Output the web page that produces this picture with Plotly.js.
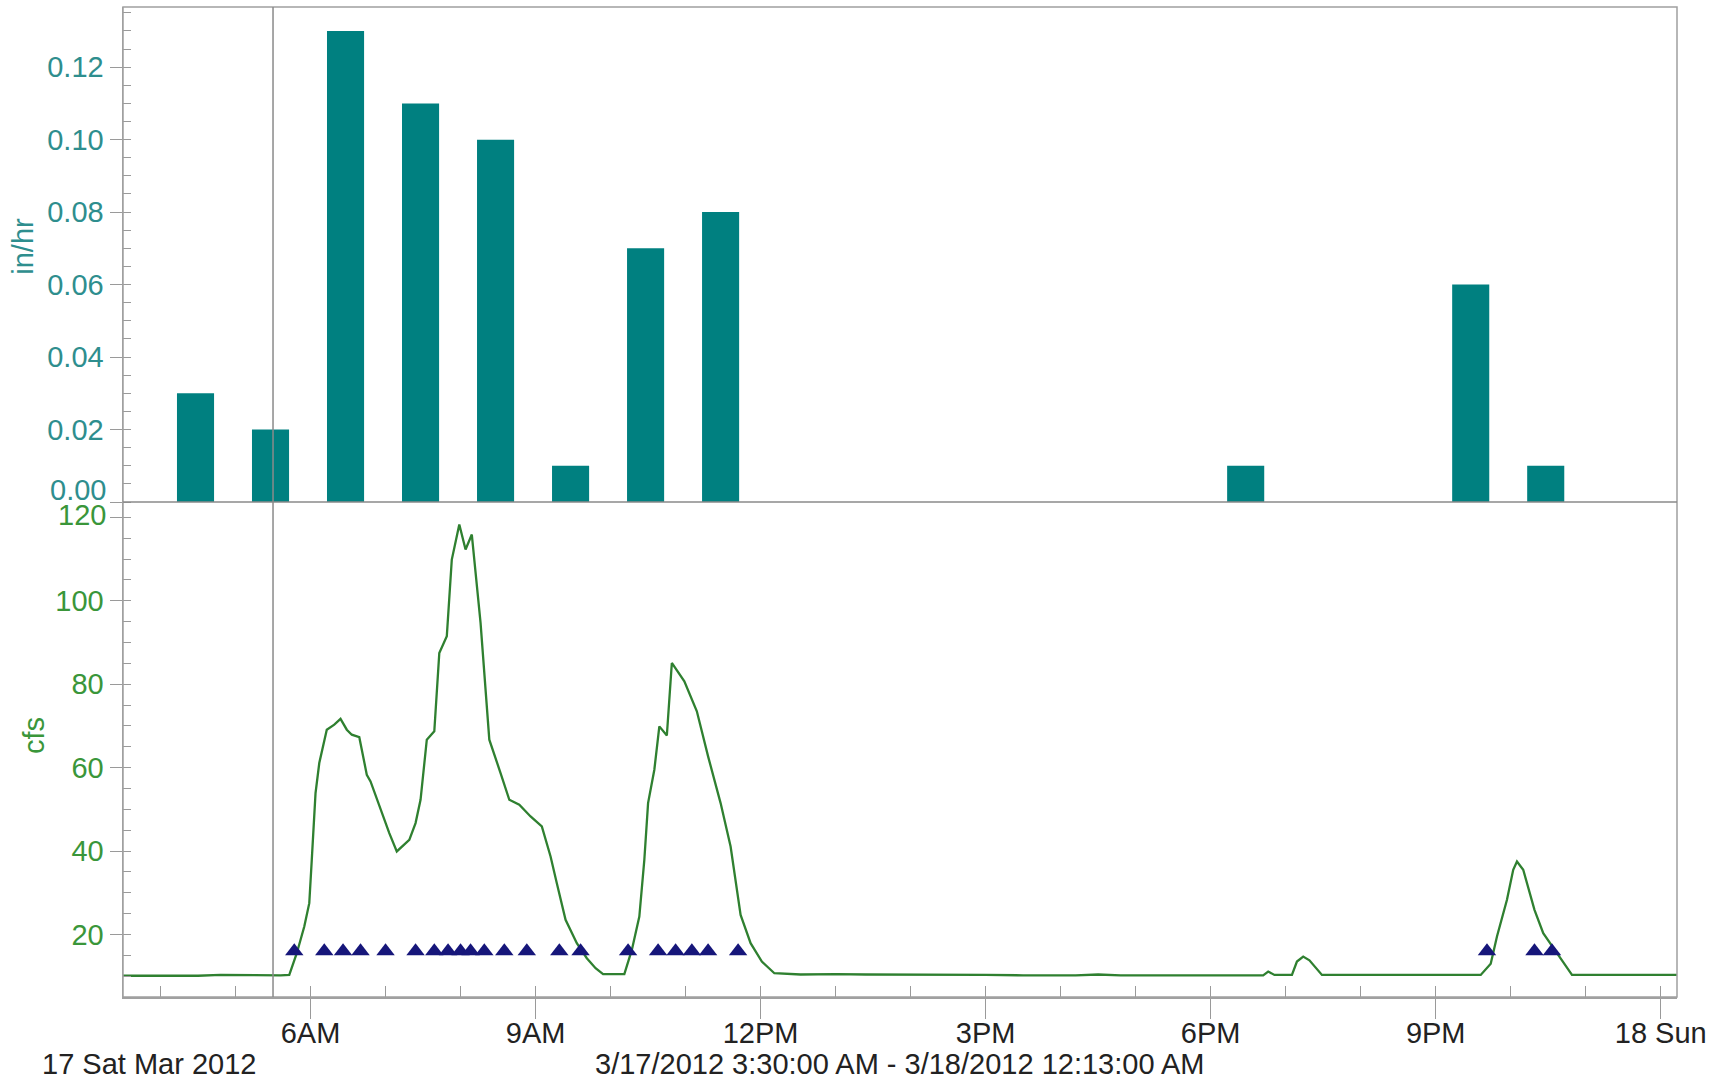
<!DOCTYPE html>
<html>
<head>
<meta charset="utf-8">
<script src="https://cdn.plot.ly/plotly-3.0.1.min.js"></script>
<style>html,body{margin:0;padding:0;background:#fff;}#chart{width:1716px;height:1083px;}</style>
</head>
<body>
<div id="chart"></div>
<script>
// ---- Data ----
const rangeStart = '2012-03-17 03:30';
const rangeEnd = '2012-03-18 00:13';
const markerTime = '2012-03-17 05:30';

const rainTimes = ['2012-03-17 04:28','2012-03-17 05:28','2012-03-17 06:28','2012-03-17 07:28','2012-03-17 08:28','2012-03-17 09:28','2012-03-17 10:28','2012-03-17 11:28','2012-03-17 18:28','2012-03-17 21:28','2012-03-17 22:28'];
const rainValues = [0.03, 0.02, 0.13, 0.11, 0.10, 0.01, 0.07, 0.08, 0.01, 0.06, 0.01];

const flowTimes = ['2012-03-17 03:30','2012-03-17 04:00','2012-03-17 04:30','2012-03-17 04:48','2012-03-17 05:12','2012-03-17 05:36','2012-03-17 05:43','2012-03-17 05:49','2012-03-17 05:55','2012-03-17 05:59','2012-03-17 06:01','2012-03-17 06:04','2012-03-17 06:07','2012-03-17 06:13','2012-03-17 06:19','2012-03-17 06:24','2012-03-17 06:29','2012-03-17 06:33','2012-03-17 06:39','2012-03-17 06:45','2012-03-17 06:48','2012-03-17 06:56','2012-03-17 07:03','2012-03-17 07:09','2012-03-17 07:19','2012-03-17 07:24','2012-03-17 07:28','2012-03-17 07:33','2012-03-17 07:39','2012-03-17 07:43','2012-03-17 07:47','2012-03-17 07:49','2012-03-17 07:53','2012-03-17 07:59','2012-03-17 08:04','2012-03-17 08:09','2012-03-17 08:16','2012-03-17 08:23','2012-03-17 08:32','2012-03-17 08:39','2012-03-17 08:47','2012-03-17 08:56','2012-03-17 09:05','2012-03-17 09:12','2012-03-17 09:17','2012-03-17 09:24','2012-03-17 09:33','2012-03-17 09:41','2012-03-17 09:48','2012-03-17 09:54','2012-03-17 10:11','2012-03-17 10:17','2012-03-17 10:23','2012-03-17 10:27','2012-03-17 10:30','2012-03-17 10:35','2012-03-17 10:39','2012-03-17 10:45','2012-03-17 10:49','2012-03-17 10:59','2012-03-17 11:09','2012-03-17 11:18','2012-03-17 11:28','2012-03-17 11:36','2012-03-17 11:44','2012-03-17 11:52','2012-03-17 12:01','2012-03-17 12:11','2012-03-17 12:32','2012-03-17 13:00','2012-03-17 13:24','2012-03-17 14:00','2012-03-17 15:00','2012-03-17 15:30','2012-03-17 16:12','2012-03-17 16:30','2012-03-17 16:48','2012-03-17 18:00','2012-03-17 18:42','2012-03-17 18:46','2012-03-17 18:51','2012-03-17 19:05','2012-03-17 19:09','2012-03-17 19:14','2012-03-17 19:19','2012-03-17 19:29','2012-03-17 21:36','2012-03-17 21:44','2012-03-17 21:49','2012-03-17 21:57','2012-03-17 22:02','2012-03-17 22:05','2012-03-17 22:10','2012-03-17 22:19','2012-03-17 22:26','2012-03-17 22:37','2012-03-17 22:49','2012-03-18 00:13'];
const flowValues = [10.1,10.1,10.1,10.3,10.2,10.2,10.3,15.5,21.9,27.5,37.9,53.9,61.1,69.1,70.3,71.7,69.1,67.9,67.3,58.3,56.7,49.9,44.3,39.9,42.7,46.7,52.3,66.7,68.7,87.5,90.3,91.5,109.9,118.3,112.3,115.9,94.7,66.7,58.7,52.3,51.1,48.3,45.9,38.7,32.3,23.5,17.9,14.3,11.9,10.5,10.5,16.3,24.3,37.9,51.5,59.5,69.9,67.7,85.1,80.7,73.5,62.7,51.5,41.1,24.7,17.9,13.5,10.7,10.4,10.5,10.4,10.4,10.3,10.2,10.2,10.4,10.2,10.2,10.2,11.1,10.3,10.3,13.5,14.7,13.8,10.3,10.3,13.0,19.5,28.3,35.5,37.5,35.5,25.9,20.3,15.5,10.3,10.3];

const tipTimes = ['2012-03-17 05:47','2012-03-17 06:11','2012-03-17 06:26','2012-03-17 06:40','2012-03-17 07:00','2012-03-17 07:24','2012-03-17 07:39','2012-03-17 07:50','2012-03-17 08:00','2012-03-17 08:08','2012-03-17 08:19','2012-03-17 08:35','2012-03-17 08:53','2012-03-17 09:19','2012-03-17 09:36','2012-03-17 10:14','2012-03-17 10:38','2012-03-17 10:52','2012-03-17 11:05','2012-03-17 11:18','2012-03-17 11:42','2012-03-17 21:41','2012-03-17 22:19','2012-03-17 22:33'];
const tipValues = [16,16,16,16,16,16,16,16,16,16,16,16,16,16,16,16,16,16,16,16,16,16,16,16];

const xTickVals = ['2012-03-17 06:00','2012-03-17 09:00','2012-03-17 12:00','2012-03-17 15:00','2012-03-17 18:00','2012-03-17 21:00','2012-03-18 00:00'];
const xTickText = ['6AM','9AM','12PM','3PM','6PM','9PM','18 Sun'];

const rainTickVals = [0, 0.02, 0.04, 0.06, 0.08, 0.10, 0.12];
const rainTickText = ['', '0.02', '0.04', '0.06', '0.08', '0.10', '0.12'];
const flowTickVals = [20, 40, 60, 80, 100, 120];
const flowTickText = ['20', '40', '60', '80', '100', ''];

// ---- Styles ----
const FONT = 'Liberation Sans, Arial, sans-serif';
const FS = 29;
const TEAL = '#008080';
const TEAL_TXT = '#2e8e8e';
const GREEN_TXT = '#3a963a';
const FRAME = '#a0a0a0';
const TICKC = '#9a9a9a';

const traces = [
  {type:'bar', x: rainTimes, y: rainValues, xaxis:'x', yaxis:'y',
   marker:{color: TEAL, line:{width:0}}, width: 1780000},
  {type:'scatter', mode:'lines', x: flowTimes, y: flowValues, xaxis:'x', yaxis:'y2',
   line:{color:'#2f8030', width:2.3}},
  {type:'scatter', mode:'markers', x: tipTimes, y: tipValues, xaxis:'x', yaxis:'y2',
   marker:{symbol:'triangle-up', size:16, color:'#16167a', line:{width:0}}}
];

const layout = {
  width:1716, height:1083,
  margin:{l:123, r:39, t:7, b:86},
  paper_bgcolor:'#ffffff', plot_bgcolor:'#ffffff',
  showlegend:false,
  font:{family: FONT, size:FS, color:'#222'},
  xaxis:{
    type:'date', range:[rangeStart, rangeEnd], anchor:'y2',
    tickmode:'array', tickvals:xTickVals, ticktext:xTickText,
    ticks:'outside', ticklen:20, tickwidth:1, tickcolor:TICKC, ticklabelstandoff:-10,
    minor:{tickmode:'linear', tick0:'2012-03-17 00:00', dtick:3600000, ticks:'inside', ticklen:11, tickwidth:1, tickcolor:TICKC},
    showgrid:false, zeroline:false, showline:true, linecolor:FRAME, linewidth:1.5,
    tickfont:{family:FONT, size:FS, color:'#222'}
  },
  yaxis:{
    domain:[0.5, 1], anchor:'x', range:[0, 0.1366],
    tickmode:'array', tickvals:rainTickVals, ticktext:rainTickText,
    ticks:'outside', ticklen:12, tickwidth:1, tickcolor:TICKC,
    minor:{tickmode:'linear', tick0:0, dtick:0.005, ticks:'inside', ticklen:8, tickwidth:1, tickcolor:TICKC},
    showgrid:false, zeroline:false, showline:true, linecolor:FRAME, linewidth:1.5,
    tickfont:{family:FONT, size:FS, color:TEAL_TXT}
  },
  yaxis2:{
    domain:[0, 0.5], anchor:'x', range:[5, 123.7],
    tickmode:'array', tickvals:flowTickVals, ticktext:flowTickText,
    ticks:'outside', ticklen:12, tickwidth:1, tickcolor:TICKC,
    minor:{tickmode:'linear', tick0:0, dtick:5, ticks:'inside', ticklen:8, tickwidth:1, tickcolor:TICKC},
    showgrid:false, zeroline:false, showline:true, linecolor:FRAME, linewidth:1.5,
    tickfont:{family:FONT, size:FS, color:GREEN_TXT}
  },
  shapes:[
    {type:'rect', xref:'paper', yref:'paper', x0:0, x1:1, y0:0, y1:1, line:{color:FRAME, width:1.5}},
    {type:'line', xref:'paper', yref:'paper', x0:0, x1:1, y0:0.5, y1:0.5, line:{color:'#8a8a8a', width:1.5}},
    {type:'line', xref:'x', yref:'paper', x0:markerTime, x1:markerTime, y0:0, y1:1, line:{color:'#8a8a8a', width:1.5}}
  ],
  annotations:[
    // edge tick labels nudged apart, as in the reference
    {xref:'paper', yref:'y', x:0, y:rainTickVals[0], xanchor:'right', yanchor:'middle', xshift:-15, yshift:12, showarrow:false,
     text:'0.00', font:{family:FONT, size:FS, color:TEAL_TXT}},
    {xref:'paper', yref:'y2', x:0, y:flowTickVals[flowTickVals.length-1], xanchor:'right', yanchor:'middle', xshift:-15, yshift:2, showarrow:false,
     text:'120', font:{family:FONT, size:FS, color:GREEN_TXT}},
    // axis titles
    {xref:'paper', yref:'paper', x:-0.0645, y:0.7586, xanchor:'center', yanchor:'middle', textangle:-90, showarrow:false,
     text:'in/hr', font:{family:FONT, size:FS, color:TEAL_TXT}},
    {xref:'paper', yref:'paper', x:-0.0573, y:0.2646, xanchor:'center', yanchor:'middle', textangle:-90, showarrow:false,
     text:'cfs', font:{family:FONT, size:FS, color:GREEN_TXT}},
    // bottom date lines
    {xref:'paper', yref:'paper', x:-0.0531, y:-0.0677, xanchor:'left', yanchor:'middle', showarrow:false,
     text:'17 Sat Mar 2012', font:{family:FONT, size:FS, color:'#222'}},
    {xref:'paper', yref:'paper', x:0.4994, y:-0.0677, xanchor:'center', yanchor:'middle', showarrow:false,
     text:'3/17/2012 3:30:00 AM - 3/18/2012 12:13:00 AM', font:{family:FONT, size:FS, color:'#222'}}
  ]
};

Plotly.newPlot('chart', traces, layout, {displayModeBar:false, staticPlot:true});
</script>
</body>
</html>
